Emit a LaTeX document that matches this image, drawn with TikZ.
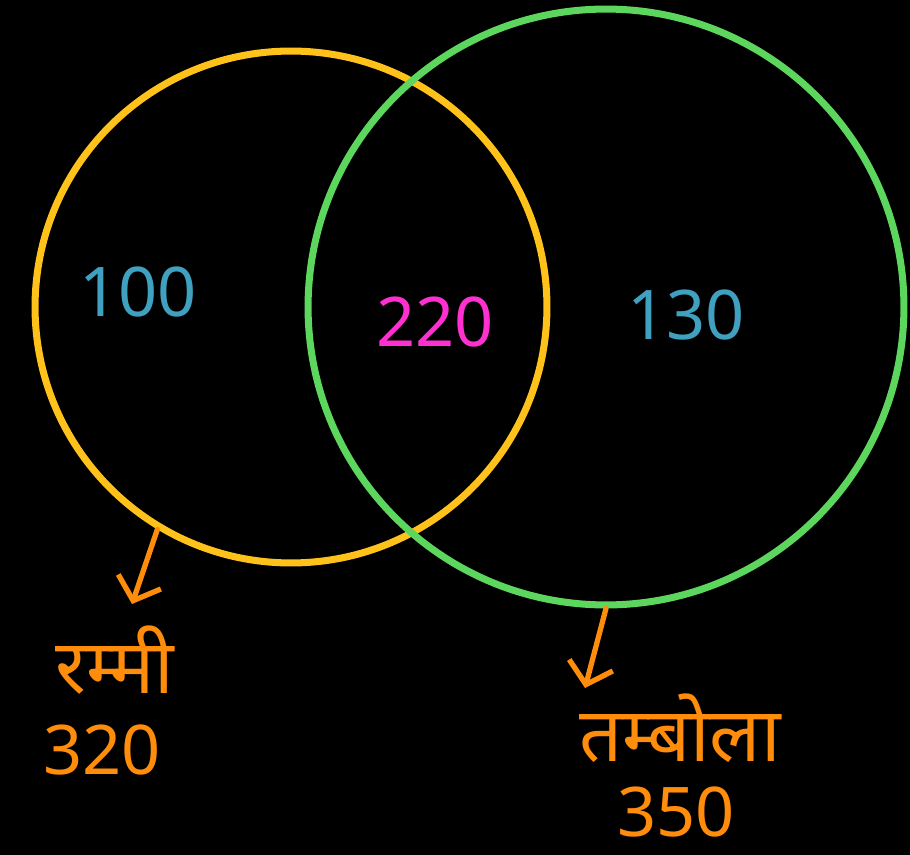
\documentclass[tikz,border=0pt]{standalone}
\usepackage{fontspec}
\usepackage{xcolor}
\usepackage{tikz}
\usetikzlibrary{arrows.meta,positioning}
\setmainfont{Noto Sans}
\newfontfamily\hindi[Script=Devanagari]{Noto Sans}
\definecolor{vennyellow}{HTML}{FFC21A}
\definecolor{venngreen}{HTML}{5CD65C}
\definecolor{vennteal}{HTML}{3FA0C0}
\definecolor{vennpink}{HTML}{FF30D0}
\definecolor{vennorange}{HTML}{FF8C0A}
\begin{document}
\begin{tikzpicture}[x=0.02cm,y=-0.02cm,
  setring/.style={circle,draw,line width=4pt,inner sep=0pt},
  count/.style={font=\fontsize{39}{44}\selectfont},
  tag/.style={vennorange,inner sep=0pt,font=\hindi\fontsize{43}{48}\selectfont},
  pointer/.style={vennorange,line width=3pt,line cap=round,-{Straight Barb[length=4mm,width=9mm,line width=3pt]}}]
  % background
  \fill[black] (0,0) rectangle (910,855);
  % sets
  \node[setring,draw=vennyellow,minimum size=10.24cm] (rummy) at (291,307) {};
  \node[setring,draw=venngreen,minimum size=11.92cm] (tambola) at (606,307) {};
  % region counts
  \node[count,vennteal] (onlyR) at (138,292) {100};
  \node[count,vennpink] (both) at (435,322) {220};
  \node[count,vennteal] (onlyT) at (686,315) {130};
  % set labels
  \node[tag] (rname) at (115,660) {रम्मी};
  \node[count,vennorange] (rnum) at (102,750) {320};
  \node[tag] (tname) at (680,728) {तम्बोला};
  \node[count,vennorange,inner sep=0pt] (tnum) at (676,812) {350};
  \coordinate (rtip) at (132,604);
  \coordinate (ttip) at (585,688);
  \draw[pointer] (rummy.239) -- (rtip);
  \draw[pointer] (tambola.270) -- (ttip);
\end{tikzpicture}
\end{document}
